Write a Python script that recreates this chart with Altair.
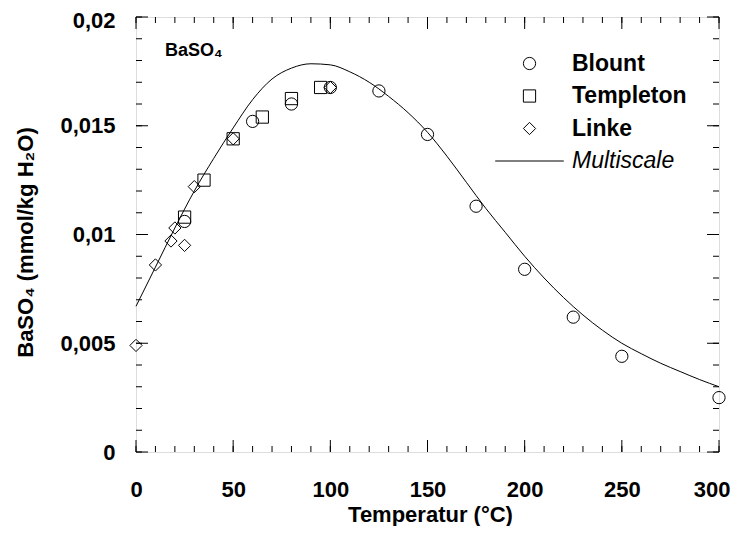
import altair as alt
import pandas as pd

# --- data ---
blount_x = [25, 60, 80, 100, 125, 150, 175, 200, 225, 250, 300]
blount_y = [0.0106, 0.0152, 0.0160, 0.01676, 0.0166, 0.0146, 0.0113, 0.0084, 0.0062, 0.0044, 0.0025]

templeton_x = [25, 35, 50, 65, 80, 95]
templeton_y = [0.0108, 0.0125, 0.0144, 0.0154, 0.01625, 0.01676]

linke_x = [0, 10, 18, 20, 25, 30, 50, 100]
linke_y = [0.0049, 0.0086, 0.0097, 0.0103, 0.0095, 0.0122, 0.0144, 0.01676]

curve_x = [0, 10, 20, 30, 40, 50, 60, 70, 80, 90, 100, 110, 120, 130, 140, 150,
           160, 170, 180, 190, 200, 210, 220, 230, 240, 250, 260, 270, 280, 290, 300]
curve_y = [0.0067, 0.0085, 0.0103, 0.0120, 0.0135, 0.0149, 0.0162, 0.01715, 0.01765, 0.01785,
           0.0178, 0.01748, 0.0170, 0.01635, 0.0156, 0.0147, 0.0136, 0.0124, 0.0112, 0.0101,
           0.0090, 0.0080, 0.0071, 0.0063, 0.0056, 0.0050, 0.00452, 0.00408, 0.0037, 0.00333, 0.0030]

series_names = ["Blount", "Templeton", "Linke", "Multiscale"]
series_shapes = ["circle", "square", "diamond", "M-5.6,0H5.6"]

x_major = [0, 50, 100, 150, 200, 250, 300]
x_minor = list(range(0, 301, 10))
y_major = [0, 0.005, 0.01, 0.015, 0.02]
y_minor = [i / 1000 for i in range(0, 21)]

W, H = 583, 435
FONT = "Liberation Sans"

pts = pd.DataFrame({
    "T": blount_x + templeton_x + linke_x,
    "c": blount_y + templeton_y + linke_y,
    "Quelle": ["Blount"] * len(blount_x) + ["Templeton"] * len(templeton_x) + ["Linke"] * len(linke_x),
})
curve = pd.DataFrame({"T": curve_x, "c": curve_y})

xs = alt.Scale(domain=[0, 300], nice=False, zero=False)
ys = alt.Scale(domain=[0, 0.02], nice=False, zero=False)

xaxis = alt.Axis(values=x_major, grid=False, domain=False, ticks=False, tickSize=0,
                 labelFont=FONT, labelFontSize=22, labelFontWeight="bold", labelColor="black",
                 labelPadding=27, labelFlush=False,
                 labelAlign={"condition": {"test": "datum.value == 300", "value": "right"}, "value": "center"},
                 labelOffset={"condition": {"test": "datum.value == 300", "value": 11}, "value": 0},
                 title="Temperatur  (°C)", titleFont=FONT, titleFontSize=22, titleFontWeight="bold",
                 titleColor="black", titleX=294, titleY=69, titleBaseline="alphabetic", titleAnchor="middle")
yaxis = alt.Axis(values=y_major, grid=False, domain=False, ticks=False, tickSize=0,
                 labelFont=FONT, labelFontSize=22, labelFontWeight="bold", labelColor="black",
                 labelPadding=21, labelFlush=False,
                 labelOffset={"condition": {"test": "datum.value == 0.02", "value": 3}, "value": 0},
                 labelExpr="replace(format(datum.value, '.3~f'), '.', ',')",
                 title="BaSO₄  (mmol/kg H₂O)", titleFont=FONT, titleFontSize=22, titleFontWeight="bold",
                 titleColor="black", titleX=-104, titleY=225, titleAngle=270,
                 titleBaseline="alphabetic", titleAlign="center")

line = alt.Chart(curve).mark_line(color="black", strokeWidth=1, interpolate="monotone", clip=False).encode(
    x=alt.X("T:Q", scale=xs, axis=xaxis),
    y=alt.Y("c:Q", scale=ys, axis=yaxis),
)

points = alt.Chart(pts).mark_point(filled=False, color="black", size=150, strokeWidth=1, opacity=1).encode(
    x=alt.X("T:Q", scale=xs),
    y=alt.Y("c:Q", scale=ys),
    shape=alt.Shape("Quelle:N",
                    scale=alt.Scale(domain=series_names, range=series_shapes),
                    legend=alt.Legend(orient="none", legendX=382, legendY=35, title=None,
                                      padding=0, symbolSize=150, symbolStrokeColor="black",
                                      symbolStrokeWidth=1, symbolFillColor="transparent",
                                      labelFont=FONT, labelFontSize=23, labelColor="black",
                                      labelFontWeight={"expr": "datum.label == 'Multiscale' ? 'normal' : 'bold'"},
                                      labelFontStyle={"expr": "datum.label == 'Multiscale' ? 'italic' : 'normal'"},
                                      labelOffset=31, rowPadding=8.5, labelLimit=300)),
)

# inward tick marks on all four sides
xmaj = pd.DataFrame({"v": x_major})
xmin = pd.DataFrame({"v": x_minor})
ymaj = pd.DataFrame({"v": y_major})
ymin = pd.DataFrame({"v": y_minor})

def xticks(df, ln):
    b = alt.Chart(df).mark_rule(color="black", strokeWidth=1).encode(
        x=alt.X("v:Q", scale=xs), y=alt.value(H), y2=alt.value(H - ln))
    t = alt.Chart(df).mark_rule(color="black", strokeWidth=1).encode(
        x=alt.X("v:Q", scale=xs), y=alt.value(0), y2=alt.value(ln))
    return [b, t]

def yticks(df, ln):
    l = alt.Chart(df).mark_rule(color="black", strokeWidth=1).encode(
        y=alt.Y("v:Q", scale=ys), x=alt.value(0), x2=alt.value(ln))
    r = alt.Chart(df).mark_rule(color="black", strokeWidth=1).encode(
        y=alt.Y("v:Q", scale=ys), x=alt.value(W), x2=alt.value(W - ln))
    return [l, r]

label = alt.Chart(pd.DataFrame({"t": ["BaSO₄"]})).mark_text(
    font=FONT, fontSize=18, fontWeight="bold", color="black", align="left", baseline="alphabetic"
).encode(text="t:N", x=alt.value(29), y=alt.value(39))

layers = xticks(xmin, 6) + xticks(xmaj, 12) + yticks(ymin, 6) + yticks(ymaj, 12) + [line, points, label]

chart = alt.layer(*layers).properties(
    width=W, height=H,
    autosize=alt.AutoSizeParams(type="none"),
    padding={"left": 128, "top": 9, "right": 12, "bottom": 74},
).configure_view(stroke="black", strokeWidth=1.5).configure(background="white")

chart.save("out.html", embed_options={"renderer": "svg", "actions": False})
